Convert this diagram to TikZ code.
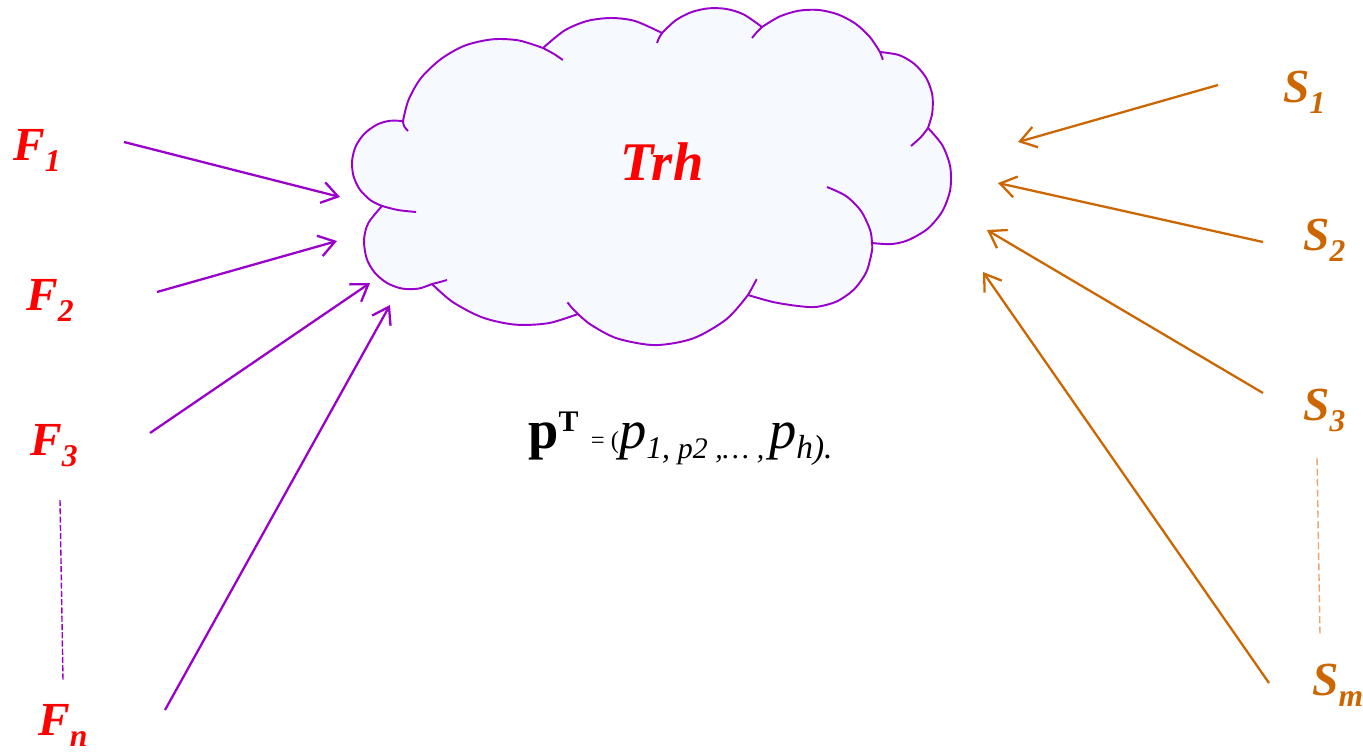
\documentclass[tikz,border=0pt]{standalone}
\usepackage{fontspec}
\setmainfont{Liberation Serif}
\usetikzlibrary{arrows.meta}

\definecolor{cloudpurple}{RGB}{153,0,204}
\definecolor{srcorange}{RGB}{204,102,0}
\definecolor{dashorange}{RGB}{235,165,115}
\definecolor{cloudfill}{RGB}{246,250,255}

\newcommand{\idx}[2]{#1\raisebox{-.25em}{\fontsize{18}{18}\selectfont #2}}

\tikzset{
  lbl/.style={inner sep=0pt, anchor=base west, font=\fontsize{27}{27}\selectfont\bfseries\itshape},
  fin/.style={cloudpurple, line width=1.3pt, -{Straight Barb[length=9pt,width=12pt]}},
  sin/.style={fin, srcorange},
  bump/.style={cloudpurple, line width=1.1pt},
}

\begin{document}
\begin{tikzpicture}[x=0.02cm, y=-0.02cm]
\useasboundingbox (0,0) rectangle (1363,752);

\draw[bump, fill=cloudfill]
  plot[smooth] coordinates {(382,206) (370.6,200.3) (359.8,189.5) (353.4,175.7) (352.1,160.5) (356,145.7) (364.8,133.3) (377.2,124.5) (389.7,120.8) (403,121)}
  -- plot[smooth] coordinates {(403,121) (408.5,100) (421,78) (441,59) (465,45.5) (492.6,39.3) (518.6,40.4) (543,48)}
  -- plot[smooth] coordinates {(543,48) (564.5,30.5) (587,21) (611,18) (635,21) (662,33)}
  -- plot[smooth] coordinates {(662,33) (675.7,20.3) (691.5,12.1) (708.9,8.3) (726.6,9) (743.6,14.4) (762,27)}
  -- plot[smooth] coordinates {(762,27) (779.2,16.7) (798.2,10.8) (818,9.9) (837.4,14.2) (855.1,23.4) (869.7,36.8) (880,52)}
  -- plot[smooth] coordinates {(880,52) (899.1,55.1) (914.6,64.1) (926.2,77.9) (932.3,94.7) (932.3,112.7) (928,128)}
  -- plot[smooth] coordinates {(928,128) (942.3,145.2) (950.2,166.7) (950.2,189.7) (942.3,211.3) (927.6,228.8) (907.7,240.3) (890.9,244.1) (872,243)}
  -- plot[smooth] coordinates {(872,243) (871.9,251.3) (866.4,271.8) (854.2,289.2) (836.8,301.4) (816.3,306.9) (798,306) (773,302) (748,295)}
  -- plot[smooth] coordinates {(748,295) (726.6,319.1) (693.1,338.4) (655.1,345.1) (617.1,338.4) (591.3,325) (578,314)}
  -- plot[smooth] coordinates {(578,314) (548.2,323.2) (514.9,324.6) (482.3,317.4) (452.7,302) (432,284)}
  -- plot[smooth] coordinates {(432,284) (418.5,288.6) (402.3,288.6) (387.2,283.1) (374.8,272.7) (366.7,258.7) (364,240) (368.3,223.1) (382,206)}
  -- cycle;
\draw[bump] plot[smooth] coordinates {(403,121) (404,126) (408,131)};
\draw[bump] plot[smooth] coordinates {(543,48) (554.2,54.1) (562.8,60)};
\draw[bump] plot[smooth] coordinates {(662,33) (659,38) (657,43)};
\draw[bump] plot[smooth] coordinates {(762,27) (757,32) (752,38)};
\draw[bump] plot[smooth] coordinates {(880,52) (881.5,56) (882.9,59.7)};
\draw[bump] plot[smooth] coordinates {(928,128) (921,137) (911,146)};
\draw[bump] plot[smooth] coordinates {(872,243) (870.2,230.2) (861,211) (846,196) (827,187)};
\draw[bump] plot[smooth] coordinates {(748,295) (752.5,287) (756.7,279.1)};
\draw[bump] plot[smooth] coordinates {(578,314) (572.5,308.5) (567.5,302.4)};
\draw[bump] plot[smooth] coordinates {(432,284) (440,282) (447,280)};
\draw[bump] plot[smooth] coordinates {(382,206) (398,210) (416,212)};

\node[font=\fontsize{31}{31}\selectfont\bfseries\itshape, text=red] (trh) at (662,162) {Trh};

\node[lbl, red] (f1) at (13,160) {\idx{F}{1}};
\node[lbl, red] (f2) at (26,310) {\idx{F}{2}};
\node[lbl, red] (f3) at (30,455) {\idx{F}{3}};
\node[lbl, red] (fn) at (38,735) {\idx{F}{n}};
\node[lbl, srcorange] (s1) at (1283,102) {\idx{S}{1}};
\node[lbl, srcorange] (s2) at (1303,250) {\idx{S}{2}};
\node[lbl, srcorange] (s3) at (1303,420) {\idx{S}{3}};
\node[lbl, srcorange] (sm) at (1312,695) {\idx{S}{m}};

\node[inner sep=0pt, anchor=base west, font=\fontsize{31}{31}\selectfont] (vec) at (528,448)
  {\textbf{p}\raisebox{.3em}{\fontsize{17}{17}\selectfont\bfseries T}%
   {\fontsize{14}{14}\selectfont\ \ = (}\textit{p}%
   \raisebox{-.2em}{\fontsize{18}{18}\selectfont\itshape 1, {\fontsize{17}{17}\selectfont p2 ,… ,\,}}%
   \textit{p}\raisebox{-.2em}{\fontsize{19}{19}\selectfont\itshape h).}};

\coordinate (f1t) at (124,142); \coordinate (f1h) at (340,197);
\coordinate (f2t) at (157,292); \coordinate (f2h) at (337,241);
\coordinate (f3t) at (150,433); \coordinate (f3h) at (370,283);
\coordinate (fnt) at (165,710); \coordinate (fnh) at (390,305);
\coordinate (s1t) at (1218,85); \coordinate (s1h) at (1018,142);
\coordinate (s2t) at (1263,242); \coordinate (s2h) at (998,183);
\coordinate (s3t) at (1263,393); \coordinate (s3h) at (987,230);
\coordinate (smt) at (1269,683); \coordinate (smh) at (983,272);
\coordinate (fda) at (60,500); \coordinate (fdb) at (63,680);
\coordinate (sda) at (1317,458); \coordinate (sdb) at (1320,635);

\draw[fin] (f1t) -- (f1h);
\draw[fin] (f2t) -- (f2h);
\draw[fin] (f3t) -- (f3h);
\draw[fin] (fnt) -- (fnh);
\draw[sin] (s1t) -- (s1h);
\draw[sin] (s2t) -- (s2h);
\draw[sin] (s3t) -- (s3h);
\draw[sin] (smt) -- (smh);

\draw[cloudpurple, line width=0.8pt, dash pattern=on 3.5pt off 1.2pt] (fda) -- (fdb);
\draw[dashorange, line width=0.8pt, dash pattern=on 4pt off 2pt] (sda) -- (sdb);

\end{tikzpicture}
\end{document}
